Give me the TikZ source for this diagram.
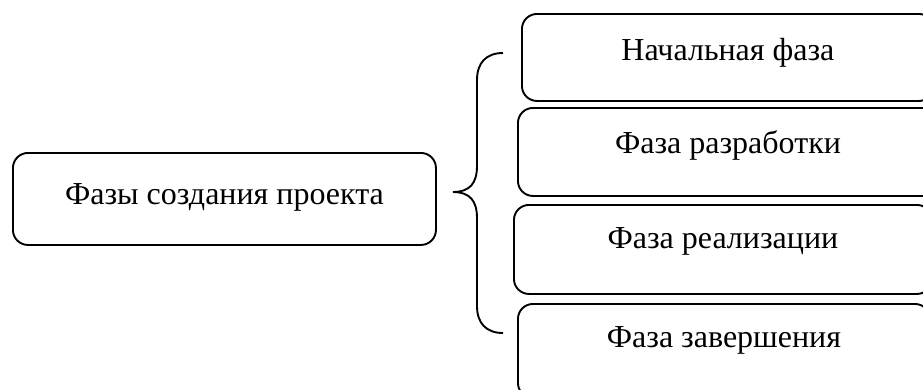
\documentclass[tikz,border=0pt]{standalone}
\usepackage{fontspec}
\setmainfont{Liberation Serif}
\begin{document}
\begin{tikzpicture}[x=1pt,y=-1pt,
  box/.style={draw, rounded corners=15pt, line width=1.9pt, inner xsep=0pt, inner ysep=0pt,
    anchor=north west, font=\fontsize{32}{38}\selectfont},
  brace/.style={line width=1.9pt}]
\useasboundingbox (0,0) rectangle (923,389);
\clip (0,0) rectangle (923,389);
\node[box, minimum width=423pt, text height=52pt, text depth=40pt] (main) at (12,152) {Фазы создания проекта};
\node[box, minimum width=412pt, text height=47pt, text depth=40pt] (p1) at (521,13) {Начальная фаза};
\node[box, minimum width=420pt, text height=46pt, text depth=42pt] (p2) at (517,107) {Фаза разработки};
\node[box, minimum width=418pt, text height=44pt, text depth=45pt] (p3) at (513,204) {Фаза реализации};
\node[box, minimum width=412pt, text height=44pt, text depth=50pt] (p4) at (517,303) {Фаза завершения};
\coordinate (bt) at (503,53);
\coordinate (bm) at (453,192);
\coordinate (bb) at (503,333);
\draw[brace] (bt) .. controls (486,53) and (477,63) .. (477,80) -- (477,166)
  .. controls (477,183) and (470,192) .. (bm)
  .. controls (470,192) and (477,201) .. (477,218) -- (477,306)
  .. controls (477,323) and (486,333) .. (bb);
\end{tikzpicture}
\end{document}
